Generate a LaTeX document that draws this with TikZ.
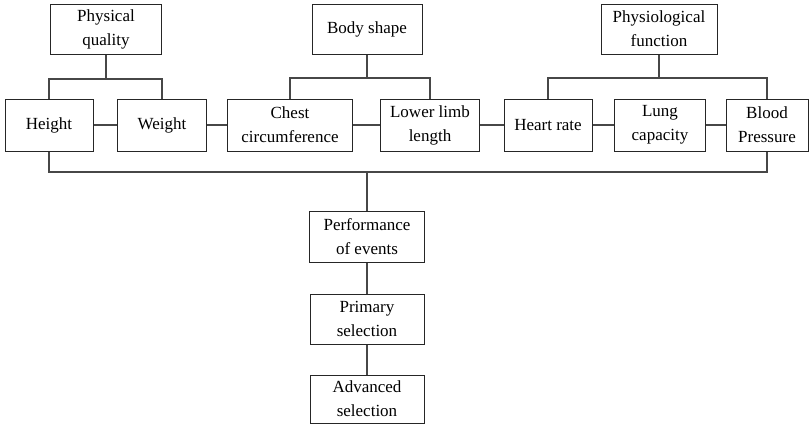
\documentclass[tikz,border=0pt]{standalone}
\usepackage{fontspec}
\setmainfont{Liberation Serif}
\usepackage{tikz}
\usetikzlibrary{calc}
\tikzset{
	box/.style={draw=black!85, line width=1pt, align=center, inner sep=0pt, minimum height=50pt, font=\fontsize{17}{24}\selectfont},
	link/.style={line width=1.3pt, color=black!72}
}

\begin{document}
\begin{tikzpicture}[x=1pt, y=-1pt]
			%%%%% START %%%%%
			\useasboundingbox (0, 0) rectangle (809, 424);
			
			% top row
			\node[box, minimum width=111pt] (pq) at (106, 29) {Physical\\quality};
			\node[box, minimum width=110pt] (bs) at (367, 29) {Body shape};
			\node[box, minimum width=116pt] (pf) at (659, 29) {Physiological\\function};
			
			% middle row
			\node[box, minimum width=88pt, minimum height=52pt] (height) at (49, 125) {Height};
			\node[box, minimum width=89pt, minimum height=52pt] (weight) at (162, 125) {Weight};
			\node[box, minimum width=125pt, minimum height=52pt] (chest) at (290, 125) {Chest\\circumference};
			\node[box, minimum width=99pt, minimum height=52pt] (limb) at (430, 125) {Lower limb\\length};
			\node[box, minimum width=88pt, minimum height=52pt] (heart) at (548, 125) {Heart rate};
			\node[box, minimum width=91pt, minimum height=52pt] (lung) at (660, 125) {Lung\\capacity};
			\node[box, minimum width=82pt, minimum height=52pt] (blood) at (767, 125) {Blood\\Pressure};
			
			% bottom column
			\node[box, minimum width=115pt, minimum height=51pt] (perf) at (367, 237) {Performance\\of events};
			\node[box, minimum width=114pt] (prim) at (367, 319) {Primary\\selection};
			\node[box, minimum width=114pt, minimum height=48pt] (adv) at (367, 399) {Advanced\\selection};
			
			\coordinate (pqj) at (106, 79);
			\coordinate (bsj) at (367, 78);
			\coordinate (pfj) at (659, 78);
			\coordinate (busj) at (367, 172);
			
			\draw[link] (pq.south) -- (pqj);
			\draw[link] (height.north) |- (pqj) -| (weight.north);
			\draw[link] (bs.south) -- (bsj);
			\draw[link] (chest.north) |- (bsj) -| (limb.north);
			\draw[link] (pf.south) -- (pfj);
			\draw[link] (heart.north) |- (pfj) -| (blood.north);
			
			\draw[link] (height) -- (weight);
			\draw[link] (weight) -- (chest);
			\draw[link] (chest) -- (limb);
			\draw[link] (limb) -- (heart);
			\draw[link] (heart) -- (lung);
			\draw[link] (lung) -- (blood);
			
			\draw[link] (height.south) |- (busj) -| (blood.south);
			\draw[link] (busj) -- (perf.north);
			\draw[link] (perf) -- (prim);
			\draw[link] (prim) -- (adv);
			%%%%% END %%%%%
\end{tikzpicture}
\end{document}
